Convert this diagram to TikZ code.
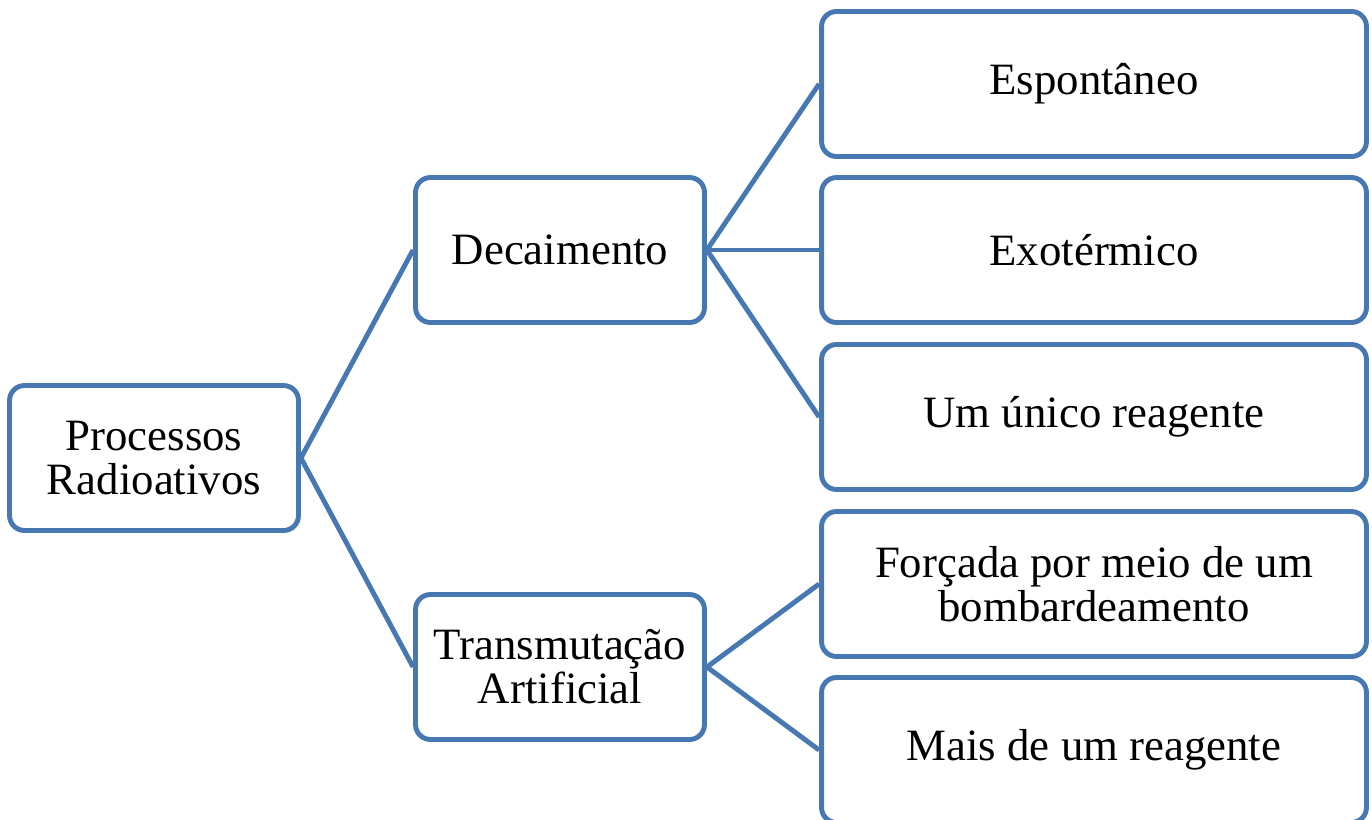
\documentclass[tikz,border=0pt]{standalone}
\usepackage{fontspec}
\setmainfont{Liberation Serif}
\definecolor{borda}{RGB}{72,120,178}

\begin{document}
\begin{tikzpicture}[x=0.02cm, y=-0.02cm,
    box/.style={draw=borda, line width=2.8pt, rounded corners=8.5pt, fill=white,
      align=center, inner sep=0pt, font=\fontsize{25.5}{25}\selectfont},
    small/.style={box, minimum width=5.78cm, minimum height=2.9cm},
    wide/.style={box, minimum width=10.9cm, minimum height=2.9cm},
    link/.style={draw=borda, line width=2.8pt}]

  \useasboundingbox (0, 0) rectangle (1372, 819);

  % left and middle column
  \node[small] (proc) at (154, 458) {Processos\\Radioativos};
  \node[small] (dec) at (560, 250) {Decaimento};
  \node[small] (trans) at (560, 667) {Transmuta\c{c}\~ao\\Artificial};

  % right column
  \node[wide] (esp) at (1094, 84) {Espont\^aneo};
  \node[wide] (exo) at (1094, 250) {Exot\'ermico};
  \node[wide] (unico) at (1094, 417) {Um \'unico reagente};
  \node[wide] (forc) at (1094, 584) {For\c{c}ada por meio de um\\bombardeamento};
  \node[wide] (mais) at (1094, 750) {Mais de um reagente};

  \draw[link] (proc.east) -- (dec.west);
  \draw[link] (proc.east) -- (trans.west);
  \draw[link] (dec.east) -- (esp.west);
  \draw[link] (dec.east) -- (exo.west);
  \draw[link] (dec.east) -- (unico.west);
  \draw[link] (trans.east) -- (forc.west);
  \draw[link] (trans.east) -- (mais.west);

\end{tikzpicture}
\end{document}
